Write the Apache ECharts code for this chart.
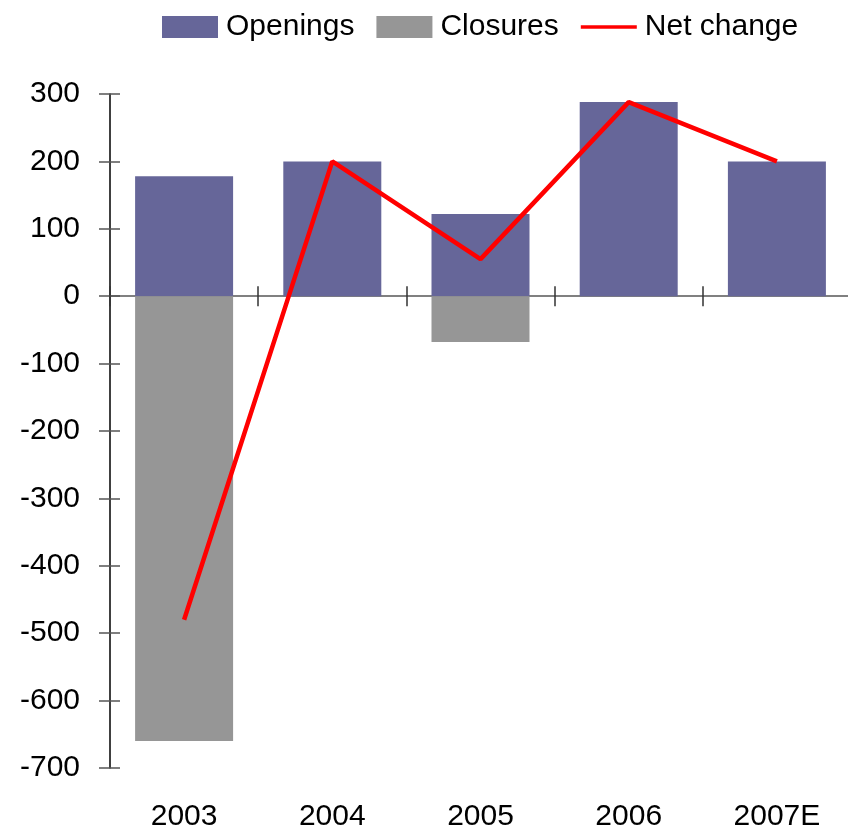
<!DOCTYPE html>
<html>
<head>
<meta charset="utf-8">
<script src="https://cdn.jsdelivr.net/npm/echarts@6/dist/echarts.min.js"></script>
<style>html,body{margin:0;padding:0;background:#fff}#c{width:848px;height:831px}</style>
</head>
<body>
<div id="c"></div>
<script>
var categories = ['2003', '2004', '2005', '2006', '2007E'];
var openings = [178, 200, 122, 288, 200];
var closures = [-660, 0, -68, 0, 0];
var netChange = [-480, 200, 55, 288, 200];
var yTicks = { min: -700, max: 300, interval: 100 };

var font = 'Liberation Sans, Arial, sans-serif';
var chart = echarts.init(document.getElementById('c'), null, { renderer: 'canvas' });
chart.setOption({
  animation: false,
  backgroundColor: '#fff',
  textStyle: { fontFamily: font },
  legend: {
    data: [
      { name: 'Openings', icon: 'rect' },
      { name: 'Closures', icon: 'rect' },
      { name: 'Net change', icon: 'path://M0,0 L56,0 L56,3.5 L0,3.5 Z' }
    ],
    left: 162, top: 12, padding: 0,
    itemWidth: 56, itemHeight: 22, itemGap: 22,
    textStyle: { fontSize: 30, color: '#000', fontFamily: font, padding: [0, 0, 0, 3] }
  },
  grid: { left: 110, top: 94, width: 741, height: 674, containLabel: false, outerBoundsMode: 'none' },
  xAxis: [
    {
      type: 'category', data: categories, position: 'bottom',
      axisLine: { show: false, onZero: false },
      axisTick: { show: false },
      axisLabel: { fontSize: 30, color: '#000', margin: 34, fontFamily: font },
      splitLine: { show: false }
    },
    {
      type: 'category', data: categories, position: 'bottom',
      axisLine: { show: true, onZero: true, lineStyle: { color: '#808080', width: 2 } },
      axisTick: { show: true, inside: false, length: 10, lineStyle: { color: '#333', width: 1.5 } },
      axisLabel: { show: false },
      splitLine: { show: false }
    },
    {
      type: 'category', data: categories, position: 'bottom',
      axisLine: { show: true, onZero: true, lineStyle: { color: 'rgba(0,0,0,0)', width: 0 } },
      axisTick: { show: true, inside: true, length: 10, lineStyle: { color: '#333', width: 1.5 } },
      axisLabel: { show: false },
      splitLine: { show: false }
    }
  ],
  yAxis: [
    {
      type: 'value', position: 'left', min: yTicks.min, max: yTicks.max, interval: yTicks.interval,
      axisLine: { show: true, onZero: false, lineStyle: { color: '#000', width: 1.5 } },
      axisTick: { show: true, inside: false, length: 11, lineStyle: { color: '#555', width: 1.5 } },
      axisLabel: { fontSize: 30, color: '#000', margin: 30, fontFamily: font },
      splitLine: { show: false }
    },
    {
      type: 'value', position: 'left', min: yTicks.min, max: yTicks.max, interval: yTicks.interval,
      axisLine: { show: false, onZero: false },
      axisTick: { show: true, inside: true, length: 10, lineStyle: { color: '#555', width: 1.5 } },
      axisLabel: { show: false },
      splitLine: { show: false }
    }
  ],
  series: [
    {
      name: 'Openings', type: 'bar', stack: 'a', data: openings,
      barWidth: 98, itemStyle: { color: '#666699' }, z: 2
    },
    {
      name: 'Closures', type: 'bar', stack: 'a', data: closures,
      barWidth: 98, itemStyle: { color: '#969696' }, z: 2
    },
    {
      name: 'Net change', type: 'line', data: netChange,
      symbol: 'none', lineStyle: { color: '#ff0000', width: 4.5 },
      itemStyle: { color: '#ff0000' }, z: 5
    }
  ]
});
</script>
</body>
</html>
